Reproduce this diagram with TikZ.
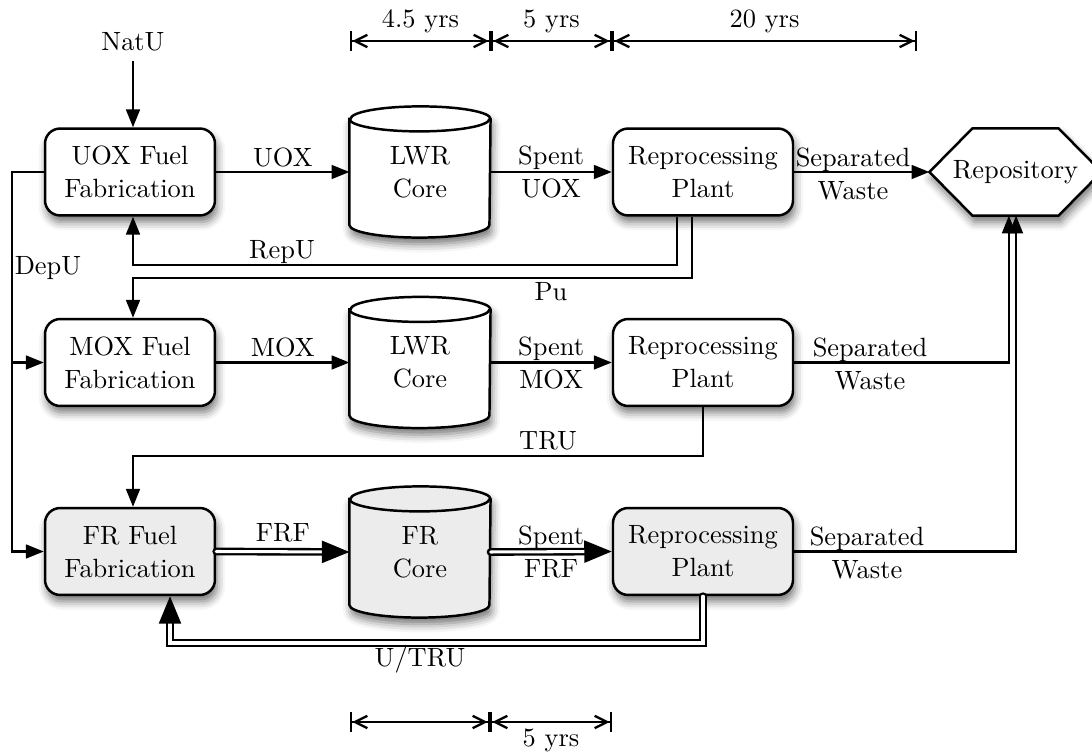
\documentclass[tikz,border=0pt]{standalone}
\usetikzlibrary{arrows.meta,shadows.blur,backgrounds,calc}

% draws the cylinder outline of a core node (#1) with fill colour #2
\newcommand\drawcore[2]{%
  \filldraw[coreline, fill=#2, shade]
    ($(#1.north west)+(0,12.5)$) -- ($(#1.south west)+(0,-12.5)$)
    arc[start angle=180, end angle=360, x radius=25.45pt, y radius=4.545pt]
    -- ($(#1.north east)+(0,12.5)$)
    arc[start angle=0, end angle=180, x radius=25.45pt, y radius=4.545pt] -- cycle;
  \draw[coreline] ($(#1.north west)+(0,12.5)$)
    arc[start angle=180, end angle=360, x radius=25.45pt, y radius=4.545pt];
}

\begin{document}
\begin{tikzpicture}[
    x=0.3636pt, y=-0.3636pt,
    font=\fontsize{9.6}{12}\selectfont,
    shade/.style={blur shadow={shadow xshift=0.7pt, shadow yshift=-2.4pt, shadow blur radius=3pt, shadow opacity=55}},
    proc/.style={draw, line width=0.9pt, rounded corners=5.5pt, minimum width=61.8pt,
      minimum height=31.6pt, align=center, fill=white, inner sep=0pt, shade},
    plant/.style={proc, minimum width=65.45pt},
    fast/.style={fill=gray!15},
    core/.style={minimum width=50.9pt, minimum height=47.3pt, align=center, inner sep=0pt},
    coreline/.style={line width=0.9pt},
    flow/.style={line width=0.85pt, -{Triangle[length=6.5pt,width=5pt]}},
    dflow/.style={line width=0.85pt, double, double distance=1.1pt, line cap=round,
      -{Triangle[length=10pt,width=8pt]}},
    lbl/.style={align=center, inner sep=1.5pt},
    timespan/.style={line width=0.85pt,
      {Bar[width=7pt]Straight Barb[length=4.5pt,width=4.5pt]}-{Straight Barb[length=4.5pt,width=4.5pt]Bar[width=7pt]}}
  ]
  \path[use as bounding box] (0,0) rectangle (1092,755);
  \clip (0,0) rectangle (1092,755);

  % process boxes
  \node[proc] (uox) at (130,172) {UOX Fuel\\Fabrication};
  \node[proc] (moxf) at (130,362.5) {MOX Fuel\\Fabrication};
  \node[proc, fast] (frf) at (130,551.5) {FR Fuel\\Fabrication};

  \node[core] (lwr1) at (420,172) {LWR\\Core};
  \node[core] (lwr2) at (420,362.5) {LWR\\Core};
  \node[core] (frc) at (420,552) {FR\\Core};

  \node[plant] (rp1) at (703,172) {Reprocessing\\Plant};
  \node[plant] (rp2) at (703,362.5) {Reprocessing\\Plant};
  \node[plant, fast] (rp3) at (703,551.5) {Reprocessing\\Plant};

  \node[minimum width=62.2pt, minimum height=31.3pt, inner sep=0pt] (repo) at (1015.5,172) {Repository};

  \begin{scope}[on background layer]
    \drawcore{lwr1}{white}
    \drawcore{lwr2}{white}
    \drawcore{frc}{gray!15}
    \filldraw[coreline, fill=white, shade] (repo.west) -- ($(repo.north west)+(43,0)$)
      -- ($(repo.north east)+(-43,0)$) -- (repo.east) -- ($(repo.south east)+(-43,0)$)
      -- ($(repo.south west)+(43,0)$) -- cycle;
  \end{scope}

  % time spans
  \coordinate (t0) at (350,41);
  \coordinate (t1) at (491,41);
  \coordinate (t2) at (612,41);
  \coordinate (t3) at (917,41);
  \draw[timespan] (t0) -- (t1) node[midway, above, inner sep=2.5pt] {4.5 yrs};
  \draw[timespan] (t1) -- (t2) node[midway, above, inner sep=2.5pt] {5 yrs};
  \draw[timespan] (t2) -- (t3) node[midway, above, inner sep=2.5pt] {20 yrs};
  \coordinate (b0) at (350,722);
  \coordinate (b1) at (490,722);
  \coordinate (b2) at (612,722);
  \draw[timespan] (b0) -- (b1);
  \draw[timespan] (b1) -- (b2) node[midway, below, inner sep=2pt] {5 yrs};

  % feed
  \node (natu) at (133,42) {NatU};
  \draw[flow] (natu.south) -- (natu.south |- uox.north);

  % depleted uranium
  \coordinate (dep) at (12,172);
  \draw[flow] (uox.west) -- (dep) |- (frf.west);
  \draw[flow] (dep |- moxf.west) -- (moxf.west);
  \node (depu) at (48,268) {DepU};

  % UOX line
  \draw[flow] (uox.east) -- (lwr1.west) node[midway, above, lbl] {UOX};
  \draw[flow] (lwr1.east) -- (rp1.west) node[midway, lbl] {Spent\\UOX};
  \draw[flow] (rp1.east) -- (repo.west);
  \node[lbl] (sw1) at (853,174) {Separated\\Waste};

  \coordinate (repu) at (133,265);
  \draw[flow] ([xshift=-9.45pt]rp1.south) |- (repu) -- (repu |- uox.south);
  \node (repul) at (282,252) {RepU};
  \coordinate (pu) at (133,278);
  \draw[flow] ([xshift=-4pt]rp1.south) |- (pu) -- (pu |- moxf.north);
  \node (pul) at (551,292) {Pu};

  % MOX line
  \draw[flow] (moxf.east) -- (lwr2.west) node[midway, above, lbl] {MOX};
  \draw[flow] (lwr2.east) -- (rp2.west) node[midway, lbl] {Spent\\MOX};
  \draw[flow] (rp2.east) -| ([xshift=-2.4pt]repo.south);
  \node[lbl] (sw2) at (870,364) {Separated\\Waste};

  \coordinate (tru) at (133,456);
  \draw[flow] (rp2.south) |- (tru) -- (tru |- frf.north);
  \node (trul) at (548,441) {TRU};

  % fast reactor line
  \draw[dflow] (frf.east) -- (frc.west) node[midway, above, inner sep=3pt] {FRF};
  \draw[dflow] (frc.east) -- (rp3.west) node[midway, lbl] {Spent\\FRF};
  \draw[flow] (rp3.east) -| ([xshift=0.2pt]repo.south);
  \node[lbl] (sw3) at (867,553) {Separated\\Waste};

  \coordinate (utru) at (170,643);
  \draw[dflow] (rp3.south) |- (utru) -- (utru |- frf.south);
  \node (utrul) at (420,660) {U/TRU};
\end{tikzpicture}
\end{document}
